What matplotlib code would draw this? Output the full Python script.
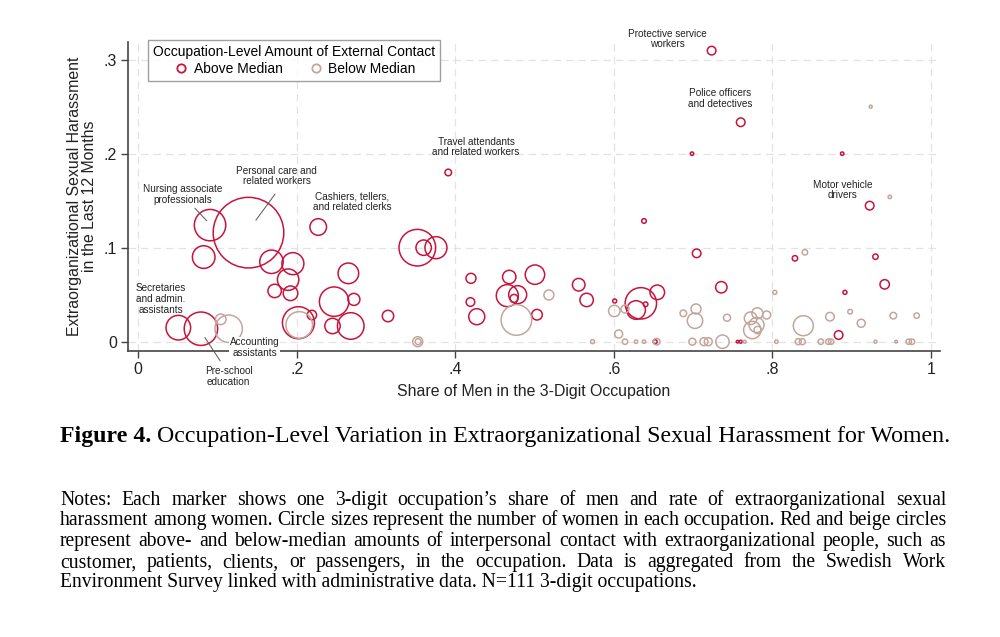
import math
import numpy as np
import matplotlib
matplotlib.use("Agg")
import matplotlib.pyplot as plt
from matplotlib.lines import Line2D
from matplotlib.font_manager import FontProperties

### Data: share of men, harassment rate, size weight (number of women, rel.)

above_x = [0.0905, 0.139, 0.0825, 0.227, 0.168, 0.195, 0.189, 0.172, 0.192, 0.265,
           0.247, 0.272, 0.245, 0.268, 0.202, 0.219, 0.0505, 0.079, 0.391, 0.352,
           0.360, 0.3755, 0.315, 0.4197, 0.419, 0.427, 0.468, 0.4655, 0.4786, 0.474,
           0.5004, 0.503, 0.5556, 0.5656, 0.638, 0.601, 0.634, 0.628, 0.640, 0.6547,
           0.652, 0.7044, 0.7355, 0.756, 0.760, 0.7233, 0.760, 0.6985, 0.888, 0.8284,
           0.8835, 0.8915, 0.9227, 0.930, 0.9416]
above_y = [0.124, 0.116, 0.090, 0.122, 0.085, 0.083, 0.066, 0.054, 0.0515, 0.0727,
           0.0426, 0.045, 0.0167, 0.0167, 0.0202, 0.0284, 0.0149, 0.0138, 0.180, 0.100,
           0.100, 0.100, 0.0273, 0.0674, 0.0422, 0.0266, 0.0688, 0.049, 0.050, 0.046,
           0.0713, 0.0287, 0.0606, 0.0444, 0.1284, 0.0433, 0.0408, 0.0337, 0.0398, 0.0525,
           0.0, 0.094, 0.0579, 0.0, 0.0, 0.3096, 0.2334, 0.200, 0.200, 0.0887,
           0.0071, 0.0525, 0.1447, 0.0904, 0.061]
above_women = [2465, 12461, 1277, 689, 1369, 1210, 1145, 449, 533, 1061,
               2161, 360, 593, 1769, 2560, 221, 1513, 2789, 109, 3349,
               593, 1210, 325, 250, 185, 640, 449, 1210, 810, 160,
               941, 281, 397, 449, 53, 40, 2465, 865, 53, 533,
               40, 185, 325, 17, 22, 185, 185, 29, 29, 73,
               185, 40, 185, 73, 221]

below_x = [0.203, 0.104, 0.114, 0.3525, 0.353, 0.518, 0.477, 0.6005, 0.614, 0.606,
           0.573, 0.614, 0.628, 0.638, 0.654, 0.6876, 0.7036, 0.7023, 0.699, 0.7136,
           0.719, 0.737, 0.7427, 0.765, 0.7725, 0.781, 0.7927, 0.780, 0.7746, 0.7814,
           0.803, 0.805, 0.8326, 0.8377, 0.839, 0.841, 0.8726, 0.861, 0.8705, 0.874,
           0.898, 0.912, 0.930, 0.956, 0.9525, 0.972, 0.976, 0.982, 0.924, 0.948]
below_y = [0.0178, 0.0238, 0.0138, 0.0, 0.0, 0.0497, 0.0231, 0.0327, 0.0348, 0.0082,
           0.0, 0.0, 0.0, 0.0, 0.0, 0.0302, 0.0348, 0.0223, 0.0, 0.0,
           0.0, 0.0, 0.0255, 0.0, 0.0249, 0.0302, 0.0284, 0.0178, 0.0124, 0.0124,
           0.0525, 0.0, 0.0, 0.0, 0.017, 0.0951, 0.0266, 0.0, 0.0, 0.0,
           0.0319, 0.0196, 0.0, 0.0, 0.0277, 0.0, 0.0, 0.0277, 0.250, 0.154]
below_women = [1769, 281, 1877, 250, 90, 250, 2341, 325, 160, 160,
               40, 73, 29, 29, 109, 109, 250, 593, 122, 160,
               160, 449, 122, 22, 397, 302, 160, 562, 757, 137,
               40, 29, 90, 90, 1000, 73, 185, 73, 73, 73,
               53, 160, 22, 17, 109, 73, 73, 73, 22, 29]

### Labelled occupations: (text, label x, label y, leader line or None)

labels = [
    ("Protective service\nworkers", 0.667, 0.322, None),
    ("Police officers\nand detectives", 0.734, 0.2587, None),
    ("Travel attendants\nand related workers", 0.426, 0.2071, None),
    ("Motor vehicle\ndrivers", 0.889, 0.1614, None),
    ("Cashiers, tellers,\nand related clerks", 0.2696, 0.1486, None),
    ("Personal care and\nrelated workers", 0.1745, 0.1763, ((0.1725, 0.157), (0.1484, 0.1293))),
    ("Nursing associate\nprofessionals", 0.0565, 0.1567, ((0.0715, 0.1419), (0.0863, 0.1287))),
    ("Secretaries\nand admin.\nassistants", 0.0286, 0.0454, None),
    ("Accounting\nassistants", 0.1466, -0.0064, None),
    ("Pre-school\neducation", 0.1138, -0.0368, ((0.0841, 0.0043), (0.1031, -0.0202))),
]

xticks = [0, 0.2, 0.4, 0.6, 0.8, 1]
xticklabels = ["0", ".2", ".4", ".6", ".8", "1"]
yticks = [0, 0.1, 0.2, 0.3]
yticklabels = ["0", ".1", ".2", ".3"]

notes_lines = [
    "Notes: Each marker shows one 3-digit occupation\u2019s share of men and rate of extraorganizational sexual",
    "harassment among women. Circle sizes represent the number of women in each occupation. Red and beige circles",
    "represent above- and below-median amounts of interpersonal contact with extraorganizational people, such as",
    "customer, patients, clients, or passengers, in the occupation. Data is aggregated from the Swedish Work",
    "Environment Survey linked with administrative data. N=111 3-digit occupations.",
]

RED = "#C8143C"
BEIGE = "#C2A69E"
SANS = "Liberation Sans"
SERIF = "Liberation Serif"
size_scale = 0.20736  # marker area (pt^2) per unit of the women weight

plt.rcParams["font.family"] = SANS

fig = plt.figure(figsize=(10, 6.37), dpi=100)
W, H = 1000, 637
ax = fig.add_axes([128 / W, 1 - 351 / H, 812 / W, 309.3 / H])

ax.scatter(above_x, above_y, s=np.array(above_women) * size_scale, facecolors="none",
           edgecolors=RED, linewidths=1.1, zorder=3, clip_on=False)
ax.scatter(below_x, below_y, s=np.array(below_women) * size_scale, facecolors="none",
           edgecolors=BEIGE, linewidths=1.1, zorder=3, clip_on=False)

for txt, lx, ly, leader in labels:
    bbox = None
    if txt.startswith("Accounting"):
        bbox = dict(facecolor="white", edgecolor="none", pad=0.5)
    ax.text(lx, ly, txt, fontsize=7.2, ha="center", va="center", color="#222222",
            linespacing=1.1, zorder=5, clip_on=False, bbox=bbox)
    if leader is not None:
        (x0, y0), (x1, y1) = leader
        ax.plot([x0, x1], [y0, y1], color="#555555", lw=0.7, zorder=4, clip_on=False)

ax.set_xlim(-0.013, 1.0114)
ax.set_ylim(-0.0099, 0.3191)
ax.set_xticks(xticks)
ax.set_xticklabels(xticklabels)
ax.set_yticks(yticks)
ax.set_yticklabels(yticklabels)
ax.tick_params(axis="both", labelsize=11.5, length=5, width=1, color="#444444",
               labelcolor="#222222", pad=3)
ax.grid(True, color="#E3E3E3", linestyle=(0, (6, 4)), linewidth=0.9)
ax.set_axisbelow(True)
for side in ["top", "right"]:
    ax.spines[side].set_visible(False)
for side in ["left", "bottom"]:
    ax.spines[side].set_color("#444444")
    ax.spines[side].set_linewidth(1.2)

ax.set_xlabel("Share of Men in the 3-Digit Occupation", fontsize=11.4, color="#222222", labelpad=5)
ax.set_ylabel("Extraorganizational Sexual Harassment\nin the Last 12 Months", fontsize=11.4,
              color="#222222", linespacing=1.0, labelpad=5)

handles = [
    Line2D([], [], ls="none", marker="o", markersize=6, markerfacecolor="none",
           markeredgecolor=RED, markeredgewidth=1.3),
    Line2D([], [], ls="none", marker="o", markersize=6, markerfacecolor="none",
           markeredgecolor=BEIGE, markeredgewidth=1.3),
]
leg = fig.legend(handles, ["Above Median", "Below Median"], title="Occupation-Level Amount of External Contact",
                 ncol=2, loc="upper left", bbox_to_anchor=(148.3 / W, 1 - 40 / H), borderaxespad=0,
                 fontsize=10, title_fontsize=10, frameon=True, fancybox=False, handletextpad=0.3,
                 columnspacing=1.8, borderpad=0.35, labelspacing=0.2, handlelength=1.2)
leg.get_frame().set_edgecolor("#888888")
leg.get_frame().set_linewidth(1.0)

### Caption and justified notes

renderer = fig.canvas.get_renderer()
left_px, right_px = 60, 946

def width_px(t):
    return t.get_window_extent(renderer).width

cap_size = 14.5
bold = fig.text(left_px / W, 1 - 442 / H, "Figure 4.", fontsize=cap_size, fontweight="bold",
                family=SERIF, va="baseline", ha="left")
rest = fig.text(0, 1 - 442 / H, " Occupation-Level Variation in Extraorganizational Sexual Harassment for Women.",
                fontsize=cap_size, family=SERIF, va="baseline", ha="left")
total = width_px(bold) + width_px(rest)
cap_size = cap_size * (right_px - left_px) / total
bold.set_fontsize(cap_size)
rest.set_fontsize(cap_size)
rest.set_x((left_px + width_px(bold)) / W)

note_size = 14.1
note_prop = FontProperties(family=SERIF, size=note_size)
for i, line in enumerate(notes_lines):
    base_px = 505 + round(i * 20.5)
    if i == len(notes_lines) - 1:
        fig.text(left_px / W, 1 - base_px / H, line, fontproperties=note_prop, va="baseline", ha="left")
        continue
    words = line.split(" ")
    objs = []
    for w in words:
        # keep every word on the same pixel baseline (Agg rounds the glyph bitmap position)
        d = renderer.get_text_width_height_descent(w, note_prop, ismath=False)[2]
        shift = math.ceil(d) - d
        objs.append(fig.text(0, 1 - (base_px + shift) / H, w, fontproperties=note_prop,
                             va="baseline", ha="left"))
    widths = [width_px(o) for o in objs]
    gap = (right_px - left_px - sum(widths)) / (len(words) - 1)
    x = left_px
    for o, w in zip(objs, widths):
        o.set_x(x / W)
        x += w + gap

fig.savefig("out.png", dpi=100)
